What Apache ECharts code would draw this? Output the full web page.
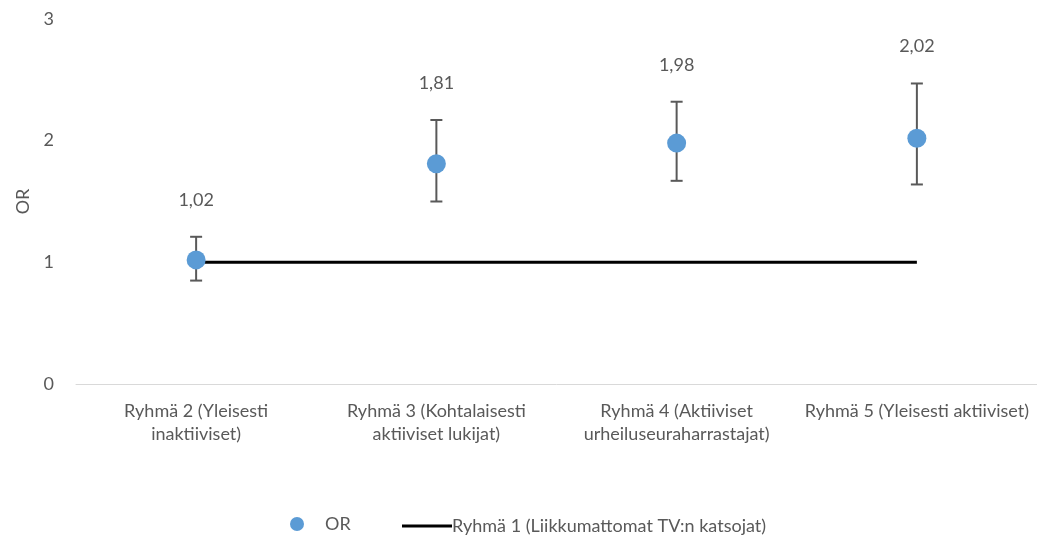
<!DOCTYPE html>
<html>
<head>
<meta charset="utf-8">
<script src="https://cdn.jsdelivr.net/npm/echarts@6/dist/echarts.min.js"></script>
<style>
html,body{margin:0;padding:0;background:#fff;}
#chart{width:1037px;height:536px;}
</style>
</head>
<body>
<div id="chart"></div>
<script>
const categories = [
  "Ryhmä 2 (Yleisesti\ninaktiiviset)",
  "Ryhmä 3 (Kohtalaisesti\naktiiviset lukijat)",
  "Ryhmä 4 (Aktiiviset\nurheiluseuraharrastajat)",
  "Ryhmä 5 (Yleisesti aktiiviset)"
];
const orValues = [1.02, 1.81, 1.98, 2.02];
const ciLower = [0.85, 1.50, 1.67, 1.64];
const ciUpper = [1.21, 2.17, 2.32, 2.47];
const referenceValues = [1, 1, 1, 1];
const yTicks = [0, 1, 2, 3];
const orName = "OR";
const refName = "Ryhmä 1 (Liikkumattomat TV:n katsojat)";

const FONT = "Lato";
const TXT = "#595959";
const FS = 18;

const errData = categories.map((c, i) => [i, ciLower[i], ciUpper[i], orValues[i]]);

const chart = echarts.init(document.getElementById('chart'), null, {renderer: 'canvas'});
chart.setOption({
  animation: false,
  backgroundColor: '#fff',
  grid: {left: 76, right: 0, top: 19, bottom: 152, containLabel: false},
  legend: [
    {
      data: [{name: orName, icon: 'circle'}],
      left: 285, top: 510, itemWidth: 14, itemHeight: 14,
      textStyle: {color: TXT, fontFamily: FONT, fontSize: FS, padding: [0, 0, 0, 16]}
    },
    {
      data: [{name: refName, icon: 'rect', itemStyle: {color: '#000'}}],
      left: 397, top: 512, itemWidth: 50, itemHeight: 3,
      textStyle: {color: TXT, fontFamily: FONT, fontSize: FS, padding: [0, 0, 0, -5]}
    }
  ],
  xAxis: {
    type: 'category',
    data: categories,
    boundaryGap: true,
    axisLine: {lineStyle: {color: '#d9d9d9', width: 1}},
    axisTick: {show: false},
    axisLabel: {color: TXT, fontFamily: FONT, fontSize: FS, lineHeight: 23, margin: 16, interval: 0}
  },
  yAxis: {
    type: 'value',
    min: yTicks[0], max: yTicks[yTicks.length - 1], interval: 1,
    name: 'OR', nameLocation: 'middle', nameGap: 42,
    nameTextStyle: {color: TXT, fontFamily: FONT, fontSize: FS},
    axisLine: {show: false},
    axisTick: {show: false},
    splitLine: {show: false},
    axisLabel: {color: TXT, fontFamily: FONT, fontSize: FS, margin: 22}
  },
  series: [
    {
      name: refName,
      type: 'line',
      data: referenceValues,
      symbol: 'none',
      lineStyle: {color: '#000', width: 3},
      itemStyle: {color: '#000'},
      z: 2
    },
    {
      name: 'err',
      type: 'custom',
      data: errData,
      z: 3,
      renderItem: function (params, api) {
        const i = api.value(0);
        const lo = api.coord([i, api.value(1)]);
        const hi = api.coord([i, api.value(2)]);
        const cap = 6;
        const st = {stroke: '#595959', lineWidth: 2};
        const v = api.value(3);
        return {
          type: 'group',
          children: [
            {type: 'line', shape: {x1: lo[0], y1: lo[1], x2: hi[0], y2: hi[1]}, style: st},
            {type: 'line', shape: {x1: lo[0] - cap, y1: lo[1], x2: lo[0] + cap, y2: lo[1]}, style: st},
            {type: 'line', shape: {x1: hi[0] - cap, y1: hi[1], x2: hi[0] + cap, y2: hi[1]}, style: st},
            {type: 'text', x: hi[0], y: hi[1] - 37,
              style: {text: v.toFixed(2).replace('.', ','), fill: TXT, font: FS + 'px ' + FONT, align: 'center', verticalAlign: 'middle'}}
          ]
        };
      }
    },
    {
      name: orName,
      type: 'scatter',
      data: orValues,
      symbol: 'circle',
      symbolSize: 19,
      itemStyle: {color: '#5B9BD5', opacity: 1},
      z: 4
    }
  ]
});
</script>
</body>
</html>
